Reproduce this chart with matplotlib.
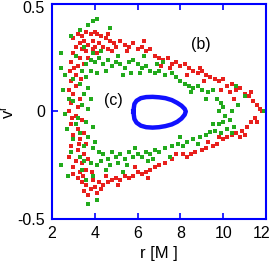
import matplotlib
matplotlib.use("Agg")
import matplotlib.pyplot as plt
import matplotlib.transforms as mtransforms

plt.rcParams['font.family'] = ['Liberation Sans', 'DejaVu Sans']

# orbit (b): red points (r, v^r)
red_pts = [
    (3.0, 0.34), (3.2, 0.36), (3.4, 0.35), (3.6, 0.37), (3.8, 0.36), (4.0, 0.37), (4.1, 0.36),
    (4.3, 0.35), (4.5, 0.34), (4.7, 0.33), (4.9, 0.32), (3.3, 0.32), (3.5, 0.33), (3.7, 0.31),
    (3.9, 0.33), (4.2, 0.32), (4.4, 0.30), (3.1, 0.30), (3.4, 0.29), (3.6, 0.28), (3.9, 0.29),
    (4.1, 0.27), (3.0, 0.27), (3.3, 0.25), (3.7, 0.25), (2.9, 0.23), (3.2, 0.21), (3.5, 0.22),
    (2.85, 0.19), (3.1, 0.17), (4.6, 0.29), (4.8, 0.28), (5.0, 0.30), (5.2, 0.33), (5.4, 0.31),
    (5.6, 0.30), (5.8, 0.32), (6.0, 0.29), (6.2, 0.30), (6.4, 0.28), (6.6, 0.29), (6.8, 0.26),
    (7.0, 0.25), (7.2, 0.24), (7.4, 0.25), (7.6, 0.22), (7.8, 0.23), (8.0, 0.21), (8.2, 0.22),
    (8.4, 0.20), (8.6, 0.19), (8.8, 0.18), (9.0, 0.19), (9.2, 0.17), (9.4, 0.16), (9.6, 0.15),
    (9.8, 0.14), (10.0, 0.15), (10.2, 0.12), (10.4, 0.13), (10.6, 0.10), (10.8, 0.11),
    (11.0, 0.08), (11.2, 0.07), (11.4, 0.05), (11.6, 0.03), (11.7, 0.01), (11.8, 0.0),
    (10.3, 0.09), (10.5, 0.06), (9.9, 0.10), (8.3, 0.17), (9.1, 0.14), (7.1, 0.21),
    (11.5, -0.03), (11.3, -0.05), (11.1, -0.07), (10.9, -0.09), (10.6, -0.10), (10.4, -0.11),
    (10.2, -0.12), (10.0, -0.13), (9.7, -0.15), (9.5, -0.16), (9.2, -0.17), (9.0, -0.18),
    (8.7, -0.19), (8.5, -0.20), (8.3, -0.21), (8.1, -0.20), (7.6, -0.22), (7.3, -0.24),
    (7.0, -0.25), (6.8, -0.26), (6.6, -0.27), (6.4, -0.28), (6.2, -0.29), (6.0, -0.28),
    (5.8, -0.30), (5.6, -0.31), (5.4, -0.30), (5.2, -0.32), (5.0, -0.31), (4.8, -0.32),
    (4.6, -0.33), (4.4, -0.34), (4.2, -0.33), (4.0, -0.35), (3.8, -0.36), (3.6, -0.34),
    (3.4, -0.33), (3.2, -0.31), (3.0, -0.29), (3.9, -0.32), (4.1, -0.38), (3.7, -0.39),
    (3.5, -0.37), (3.3, -0.28), (4.3, -0.36), (7.8, -0.20), (9.3, -0.14), (10.8, -0.12),
    (2.9, 0.14), (3.1, 0.12), (2.8, 0.10), (3.0, 0.08), (3.3, 0.06), (2.9, 0.04), (3.2, 0.02),
    (2.8, 0.0), (3.1, -0.02), (3.4, -0.04), (2.9, -0.06), (3.2, -0.08), (3.5, -0.10),
    (3.0, -0.11), (3.3, -0.13), (3.6, -0.15), (2.9, -0.16), (3.2, -0.18), (3.5, -0.20),
    (2.8, -0.21), (3.1, -0.23), (3.4, -0.24), (3.7, -0.22), (3.0, -0.26), (3.6, -0.27),
    (3.05, 0.20), (3.35, 0.15), (2.95, -0.03), (3.25, -0.15), (3.45, -0.30), (3.85, -0.28),
    (4.5, -0.30), (5.1, -0.34), (5.9, -0.26), (6.5, -0.31), (4.0, 0.30), (4.6, 0.36),
    (5.5, 0.28), (6.3, 0.33), (7.5, 0.20), (8.9, 0.20), (11.3, 0.09), (11.6, -0.05),
    (11.0, -0.11), (9.8, -0.12),
]

# orbit (b): green points
green_pts = [
    (3.9, 0.42), (4.1, 0.43), (4.7, 0.39), (2.9, 0.35), (2.4, 0.27), (3.3, 0.38), (3.7, 0.40),
    (3.6, 0.22), (3.8, 0.24), (4.0, 0.23), (4.2, 0.25), (4.4, 0.22), (4.6, 0.24), (4.8, 0.21),
    (5.0, 0.23), (5.2, 0.22), (5.4, 0.20), (5.6, 0.23), (5.8, 0.24), (6.0, 0.22), (6.2, 0.20),
    (6.4, 0.21), (6.6, 0.19), (6.8, 0.18), (7.0, 0.19), (7.3, 0.17), (7.6, 0.18), (7.8, 0.16),
    (8.0, 0.14), (8.2, 0.13), (8.4, 0.12), (8.6, 0.11), (8.8, 0.12), (9.0, 0.10), (9.3, 0.09),
    (9.5, 0.10), (9.7, 0.06), (9.9, 0.04), (10.0, 0.02), (9.8, 0.0), (10.1, -0.02),
    (10.3, -0.04), (10.0, -0.05), (9.8, -0.06), (10.5, -0.07), (10.7, 0.03), (11.9, 0.0),
    (11.0, 0.07), (10.6, 0.12), (7.2, 0.23), (6.3, 0.26), (5.1, 0.26), (4.3, 0.28), (3.5, 0.30),
    (3.9, 0.27), (4.5, 0.19), (5.3, 0.17), (6.1, 0.18),
    (2.4, 0.20), (2.6, 0.17), (3.4, 0.19), (3.6, 0.16), (3.0, 0.15), (3.3, 0.13), (3.7, 0.11),
    (2.5, 0.10), (3.5, 0.08), (3.8, 0.06), (3.0, 0.05), (3.4, 0.03), (3.7, 0.01), (2.6, -0.01),
    (3.2, -0.03), (3.6, -0.05), (3.9, -0.07), (2.7, -0.08), (3.3, -0.10), (3.7, -0.12),
    (4.0, -0.14), (3.0, -0.13), (3.5, -0.16), (3.9, -0.17), (4.2, -0.19), (2.4, -0.25),
    (2.75, -0.30), (3.3, -0.21), (3.8, -0.24),
    (4.4, -0.20), (4.6, -0.22), (4.8, -0.19), (5.0, -0.21), (5.2, -0.20), (5.4, -0.22),
    (5.6, -0.19), (5.8, -0.21), (6.0, -0.20), (6.2, -0.21), (6.4, -0.19), (6.6, -0.20),
    (6.8, -0.18), (7.0, -0.19), (7.3, -0.17), (7.6, -0.16), (7.9, -0.15), (8.1, -0.16),
    (8.3, -0.14), (8.6, -0.13), (8.9, -0.12), (9.2, -0.11), (9.4, -0.095), (9.6, -0.09),
    (9.9, -0.10), (10.2, -0.08), (4.1, -0.25), (4.5, -0.27), (5.5, -0.25), (6.5, -0.23),
    (7.5, -0.21), (3.7, -0.43), (4.1, -0.41), (3.9, -0.30), (3.4, -0.27), (5.3, -0.28),
    (4.7, -0.25), (3.6, -0.32),
    (3.1, 0.26), (3.8, 0.19), (4.1, 0.18), (5.7, 0.18), (6.9, 0.22), (8.5, 0.09), (9.2, 0.06),
    (10.4, 0.0), (2.8, 0.06), (3.1, -0.06), (2.9, -0.19), (3.5, -0.23), (4.3, -0.23),
    (5.1, -0.24), (5.9, -0.17), (6.7, -0.22), (8.0, -0.12), (8.8, -0.15), (9.5, -0.06),
    (10.4, -0.10),
]

# orbit (c): closed blue curve
blue_r = [5.8, 5.85, 5.95, 6.15, 6.4, 6.7, 7.0, 7.3, 7.6, 7.85, 8.05, 8.2, 8.25,
          8.2, 8.05, 7.85, 7.6, 7.3, 7.0, 6.7, 6.4, 6.15, 5.95, 5.85, 5.8]
blue_v = [0.0, 0.035, 0.05, 0.062, 0.067, 0.068, 0.066, 0.062, 0.053, 0.04, 0.027, 0.012, 0.0,
          -0.015, -0.033, -0.048, -0.06, -0.068, -0.073, -0.075, -0.073, -0.066, -0.052, -0.035, 0.0]

fig = plt.figure(figsize=(2.73, 2.61), dpi=100)
ax = fig.add_axes([0.1905, 0.161, 0.7839, 0.8237])

ax.plot([p[0] for p in red_pts], [p[1] for p in red_pts], 's', color='#e8201c',
        markersize=2.4, markeredgewidth=0)
ax.plot([p[0] for p in green_pts], [p[1] for p in green_pts], 's', color='#22aa1c',
        markersize=2.4, markeredgewidth=0)
ax.plot(blue_r, blue_v, '-', color='#1010ff', linewidth=3.2)

ax.text(4.85, 0.05, '(c)', fontsize=11.5, ha='center', va='center')
ax.text(8.95, 0.31, '(b)', fontsize=11.5, ha='center', va='center')

ax.set_xlim(2, 12)
ax.set_ylim(-0.5, 0.5)
ax.set_xticks([2, 4, 6, 8, 10, 12])
ax.set_yticks([-0.5, 0, 0.5])
ax.set_yticklabels(['-0.5', '0', '0.5'])
ax.tick_params(direction='in', top=True, right=True, color='blue', width=1.2,
               length=4, labelsize=11.5, pad=5)
for s in ax.spines.values():
    s.set_color('blue')
    s.set_linewidth(1.5)

# nudge edge labels inward so they are not clipped
top_lab = ax.get_yticklabels()[2]
top_lab.set_transform(top_lab.get_transform() +
                      mtransforms.ScaledTranslation(0, -2.5 / 72, fig.dpi_scale_trans))
right_lab = ax.get_xticklabels()[-1]
right_lab.set_transform(right_lab.get_transform() +
                        mtransforms.ScaledTranslation(-3 / 72, 0, fig.dpi_scale_trans))

ax.set_xlabel('r [M ]', fontsize=12, labelpad=4)
ax.set_ylabel(r'$\mathregular{v^r}$', fontsize=12, labelpad=0)

fig.savefig('out.png', dpi=100)
